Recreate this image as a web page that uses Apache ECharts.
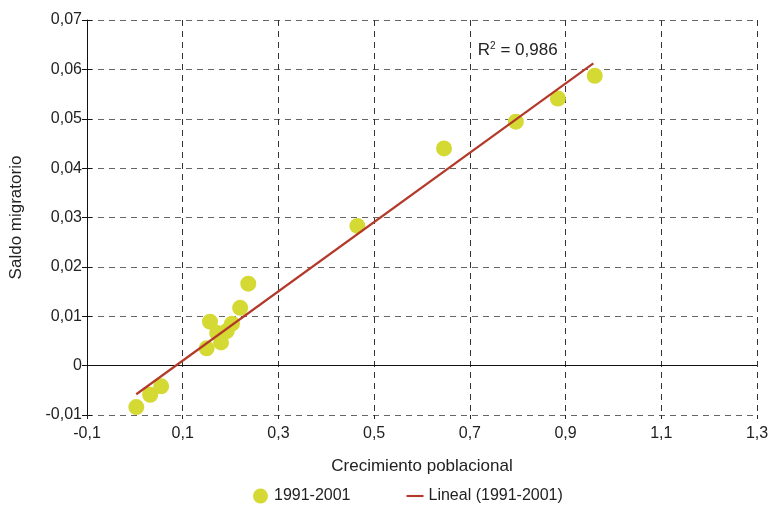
<!DOCTYPE html>
<html>
<head>
<meta charset="utf-8">
<script src="https://cdn.jsdelivr.net/npm/echarts@6/dist/echarts.min.js"></script>
<style>html,body{margin:0;padding:0;background:#fff}#c{width:772px;height:509px}</style>
</head>
<body>
<div id="c"></div>
<script>
var pointX = [0.003, 0.032, 0.055, 0.150, 0.157, 0.172, 0.180, 0.192, 0.203, 0.220, 0.237, 0.465, 0.646, 0.796, 0.884, 0.961];
var pointY = [-0.0084, -0.0059, -0.0042, 0.0035, 0.0089, 0.0066, 0.0047, 0.0070, 0.0085, 0.0117, 0.0166, 0.0283, 0.0440, 0.0494, 0.0541, 0.0587];
var trendX = [0.003, 0.958];
var trendY = [-0.0058, 0.0612];
var seriesNames = ['1991-2001', 'Lineal (1991-2001)'];
var r2Label = '0,986';
var r2Pos = [0.80, 0.0638];

var FONT = 'Liberation Sans, Arial, sans-serif';
var chart = echarts.init(document.getElementById('c'));
function fmtX(v){ return (Math.round(v*10)/10).toFixed(1).replace('.', ','); }
function fmtY(v){ var r = Math.round(v*100)/100; return r === 0 ? '0' : r.toFixed(2).replace('.', ','); }
chart.setOption({
  animation: false,
  textStyle: {fontFamily: FONT},
  grid: {left: 87, right: 15, top: 20, bottom: 94},
  legend: {
    bottom: 0, left: 248, itemGap: 56, itemWidth: 17, itemHeight: 15,
    textStyle: {fontFamily: FONT, fontSize: 16, color: '#222'},
    data: [
      {name: seriesNames[0], icon: 'circle'},
      {name: seriesNames[1], icon: 'path://M0,0L24,0L24,3L0,3Z', itemStyle: {color: '#b33a2b'}}
    ]
  },
  xAxis: [{
    type: 'value', min: -0.1, max: 1.3, interval: 0.2,
    name: 'Crecimiento poblacional', nameLocation: 'middle', nameGap: 43,
    nameTextStyle: {fontFamily: FONT, fontSize: 17, color: '#222'},
    axisLine: {show: false, onZero: false},
    axisTick: {show: true, length: 4, lineStyle: {color: '#222'}},
    axisLabel: {formatter: fmtX, fontFamily: FONT, fontSize: 16, color: '#222', margin: 11},
    splitLine: {show: true, lineStyle: {type: [6, 5], color: '#333', width: 1}}
  }],
  yAxis: [{
    type: 'value', min: -0.01, max: 0.07, interval: 0.01,
    name: 'Saldo migratorio', nameLocation: 'middle', nameGap: 62, nameRotate: 90,
    nameTextStyle: {fontFamily: FONT, fontSize: 17, color: '#222'},
    axisLine: {show: true, onZero: false, lineStyle: {color: '#111', width: 1}},
    axisTick: {show: true, length: 5, lineStyle: {color: '#111'}},
    axisLabel: {formatter: fmtY, fontFamily: FONT, fontSize: 16, color: '#222', margin: 5},
    splitLine: {show: true, lineStyle: {type: [6, 5], color: '#666', width: 1}}
  }, {
    type: 'value', min: -0.01, max: 0.07, interval: 0.01, position: 'left',
    axisLine: {show: false, onZero: false},
    axisTick: {show: true, inside: true, length: 5, lineStyle: {color: '#111'}},
    axisLabel: {show: false}, splitLine: {show: false}
  }],
  series: [{
    name: seriesNames[0], type: 'scatter', symbolSize: 16,
    itemStyle: {color: '#d4d934', opacity: 1},
    data: pointX.map(function(x, i){ return [x, pointY[i]]; }),
    markLine: {
      silent: true, symbol: 'none', label: {show: false},
      lineStyle: {color: '#111', type: 'solid', width: 1.2},
      data: [{yAxis: 0}], z: 1
    },
    z: 3
  }, {
    name: seriesNames[1], type: 'line', showSymbol: false, symbol: 'none',
    lineStyle: {color: '#b33a2b', width: 2.2},
    itemStyle: {color: '#b33a2b'},
    data: trendX.map(function(x, i){ return [x, trendY[i]]; }),
    markPoint: {
      symbol: 'circle', symbolSize: 0,
      label: {
        show: true, position: 'inside',
        formatter: '{a|R}{s|2}{a| = ' + r2Label + '}',
        rich: {
          a: {fontFamily: FONT, fontSize: 17, color: '#222'},
          s: {fontFamily: FONT, fontSize: 10, color: '#222', verticalAlign: 'top', padding: [0, 0, 8, 0]}
        }
      },
      data: [{coord: r2Pos}]
    },
    z: 4
  }]
});
</script>
</body>
</html>
